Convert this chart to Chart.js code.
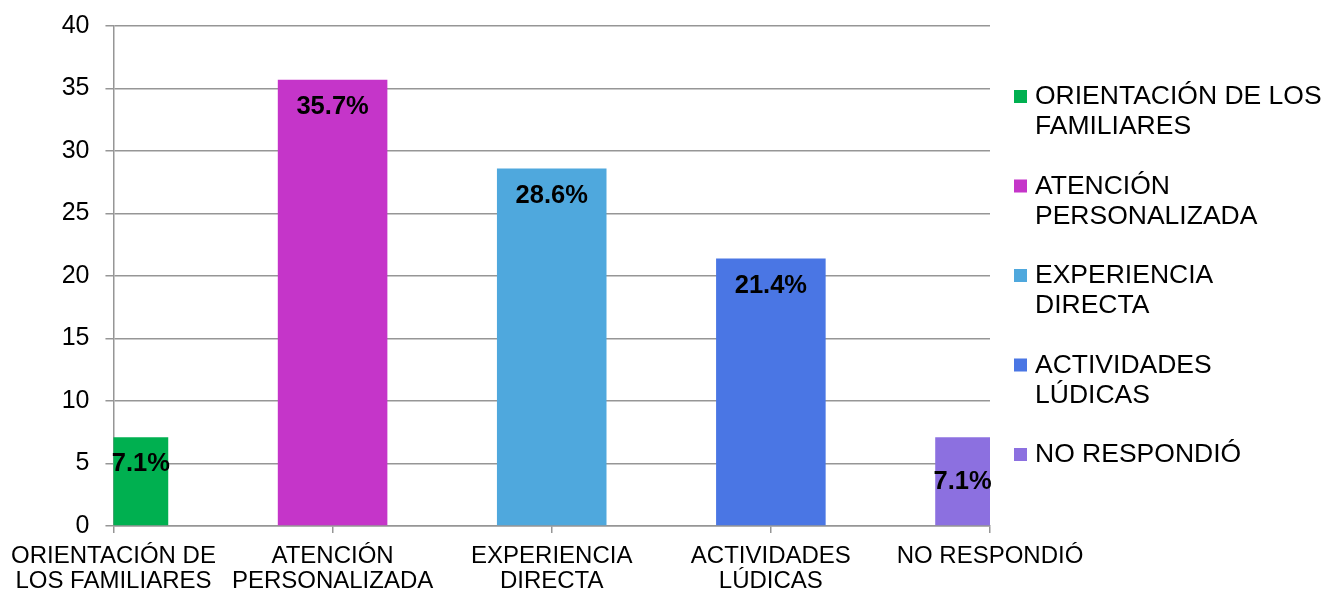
<!DOCTYPE html>
<html>
<head>
<meta charset="utf-8">
<script src="https://cdn.jsdelivr.net/npm/chart.js@4.4.1/dist/chart.umd.min.js"></script>
<style>
  body { margin: 0; background: #fff; }
  canvas { display: block; }
</style>
</head>
<body>
<canvas id="barChart" width="1327" height="590"></canvas>
<script>
const categories = [
  ["ORIENTACIÓN DE", "LOS FAMILIARES"],
  ["ATENCIÓN", "PERSONALIZADA"],
  ["EXPERIENCIA", "DIRECTA"],
  ["ACTIVIDADES", "LÚDICAS"],
  ["NO RESPONDIÓ"],
];
const legendLabels = [
  ["ORIENTACIÓN DE LOS", "FAMILIARES"],
  ["ATENCIÓN", "PERSONALIZADA"],
  ["EXPERIENCIA", "DIRECTA"],
  ["ACTIVIDADES", "LÚDICAS"],
  ["NO RESPONDIÓ"],
];
const percentages = [7.1, 35.7, 28.6, 21.4, 7.1];
const yTicks = [0, 5, 10, 15, 20, 25, 30, 35, 40];

const barColors = ["#00B050", "#C535C9", "#4FA8DD", "#4A76E4", "#8C70E0"];
const gridColor = "#969696";
const fontFamily = "'Liberation Sans', Arial, sans-serif";

// labels sit inside the bar, under its top
const barLabels = {
  id: "barLabels",
  afterDatasetsDraw(chart, args, opts) {
    const { ctx, chartArea } = chart;
    const meta = chart.getDatasetMeta(0);
    ctx.save();
    ctx.font = "bold 25.5px " + fontFamily;
    ctx.fillStyle = "#000";
    ctx.textAlign = "center";
    ctx.textBaseline = "middle";
    meta.data.forEach((bar, i) => {
      const left = Math.max(bar.x - bar.width / 2, chartArea.left);
      const right = Math.min(bar.x + bar.width / 2, chartArea.right);
      const drop = (opts.drop && opts.drop[i]) || 0;
      ctx.fillText(percentages[i].toFixed(1) + "%", (left + right) / 2, bar.y + 27 + drop);
    });
    ctx.restore();
  },
};

const sideLegend = {
  id: "sideLegend",
  afterDraw(chart) {
    const { ctx } = chart;
    ctx.save();
    ctx.font = "26.5px " + fontFamily;
    ctx.textBaseline = "middle";
    ctx.textAlign = "left";
    legendLabels.forEach((lines, i) => {
      const top = 97 + i * 89.5;
      ctx.fillStyle = barColors[i];
      ctx.fillRect(1014, top - 7, 13, 13);
      ctx.fillStyle = "#000";
      lines.forEach((line, j) => ctx.fillText(line, 1035, top + j * 30));
    });
    ctx.restore();
  },
};

new Chart(document.getElementById("barChart"), {
  type: "bar",
  data: {
    labels: categories,
    datasets: [
      {
        data: percentages,
        backgroundColor: barColors,
        barPercentage: 0.5,
        categoryPercentage: 1.0,
      },
    ],
  },
  options: {
    responsive: false,
    animation: false,
    layout: { padding: { top: 26, right: 337, left: 0, bottom: 0 } },
    plugins: {
      legend: { display: false },
      tooltip: { enabled: false },
      barLabels: { drop: [0, 0, 0, 0, 18] },
    },
    scales: {
      x: {
        offset: false,
        grid: {
          offset: false,
          drawOnChartArea: false,
          color: gridColor,
          lineWidth: 1.5,
          tickLength: 7,
        },
        border: { color: gridColor, width: 1.5 },
        ticks: {
          color: "#000",
          font: { family: fontFamily, size: 24, lineHeight: 1.05 },
          maxRotation: 0,
          autoSkip: false,
          padding: 11,
        },
        afterFit(scale) { scale.height = 64; },
      },
      y: {
        min: 0,
        max: 40,
        afterBuildTicks(scale) { scale.ticks = yTicks.map((v) => ({ value: v })); },
        grid: { color: gridColor, lineWidth: 1.5, tickLength: 8 },
        border: { color: gridColor, width: 1.5 },
        ticks: {
          color: "#000",
          font: { family: fontFamily, size: 25 },
          padding: 16,
        },
        afterFit(scale) {
          scale.width = 113;
          scale.paddingTop = 0;
          scale.paddingBottom = 0;
        },
      },
    },
  },
  plugins: [barLabels, sideLegend],
});
</script>
</body>
</html>
